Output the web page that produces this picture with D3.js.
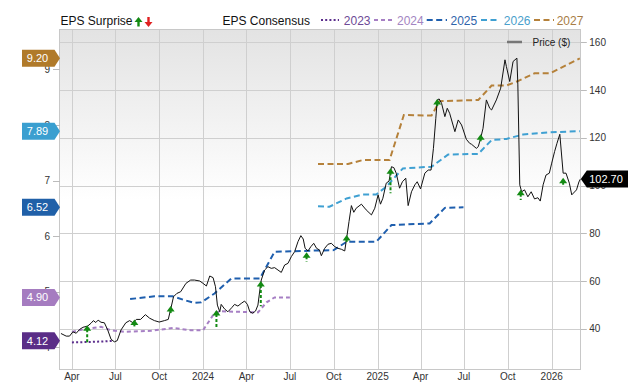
<!DOCTYPE html>
<html><head><meta charset="utf-8">
<script src="https://cdn.jsdelivr.net/npm/d3@7"></script>
<style>
html,body{margin:0;padding:0;background:#fff;}
svg{display:block;font-family:"Liberation Sans",Arial,Helvetica,sans-serif;}
</style></head><body>
<svg id="chart" width="640" height="382"></svg>
<script>
// ---------------- DATA ----------------
const seriesYears = ["2023", "2024", "2025", "2026", "2027"];
const epsLatest = [4.12, 4.90, 6.52, 7.89, 9.20];
const priceLatest = 102.70;

const eps2023 = [["2023-04-01",4.09],["2023-05-15",4.10],["2023-06-10",4.11],["2023-06-28",4.12]];
const eps2024 = [["2023-04-01",4.28],["2023-04-27",4.33],["2023-06-01",4.37],["2023-06-22",4.31],["2023-07-20",4.28],
  ["2023-09-14",4.30],["2023-10-30",4.35],["2023-12-06",4.31],["2024-01-01",4.31],["2024-01-25",4.62],["2024-02-08",4.65],
  ["2024-04-25",4.63],["2024-05-13",4.81],["2024-05-30",4.90],["2024-07-01",4.90]];
const eps2025 = [["2023-08-01",4.87],["2023-09-21",4.92],["2023-10-29",4.92],["2023-11-23",4.85],["2023-12-14",4.80],
  ["2023-12-28",4.81],["2024-01-25",4.97],["2024-02-29",5.24],["2024-04-29",5.24],["2024-05-30",5.72],["2024-08-15",5.74],
  ["2024-10-01",5.75],["2024-10-28",5.90],["2024-12-29",5.90],["2025-01-30",6.20],["2025-04-20",6.23],["2025-05-22",6.51],
  ["2025-06-30",6.52]];
const eps2026 = [["2024-08-29",6.54],["2024-09-22",6.53],["2024-10-28",6.68],["2024-12-01",6.75],["2024-12-29",6.75],
  ["2025-01-19",6.89],["2025-02-23",7.22],["2025-04-24",7.25],["2025-05-29",7.47],["2025-07-31",7.48],["2025-08-28",7.73],
  ["2025-09-28",7.75],["2025-11-02",7.83],["2025-12-29",7.87],["2026-03-01",7.89]];
const eps2027 = [["2024-08-29",7.30],["2024-10-31",7.30],["2024-12-01",7.37],["2025-01-26",7.37],["2025-02-25",8.18],
  ["2025-04-24",8.17],["2025-05-11",8.43],["2025-07-31",8.45],["2025-08-28",8.71],["2025-09-28",8.71],["2025-10-22",8.79],
  ["2025-11-26",8.93],["2025-12-29",8.93],["2026-03-01",9.20]];

const priceData = [
["2023-03-09",38.0],["2023-03-20",36.9],["2023-03-27",36.9],["2023-04-03",38.7],["2023-04-10",38.1],["2023-04-17",39.7],
["2023-04-24",40.6],["2023-05-04",41.1],["2023-05-11",42.3],["2023-05-16",43.4],["2023-05-21",42.6],["2023-05-26",43.6],
["2023-06-01",42.7],["2023-06-08",42.5],["2023-06-15",39.5],["2023-06-22",35.6],["2023-06-29",34.5],["2023-07-05",35.0],
["2023-07-13",39.5],["2023-07-23",42.5],["2023-07-31",43.4],["2023-08-07",42.5],["2023-08-14",43.9],["2023-08-23",43.9],
["2023-09-02",45.9],["2023-09-11",44.4],["2023-09-21",43.4],["2023-10-01",42.8],["2023-10-12",43.4],["2023-10-20",43.9],
["2023-10-25",48.1],["2023-10-31",53.4],["2023-11-07",54.8],["2023-11-15",55.5],["2023-11-26",59.0],["2023-12-06",60.4],
["2023-12-14",60.4],["2023-12-25",60.0],["2024-01-01",59.0],["2024-01-08",57.9],["2024-01-15",62.1],["2024-01-22",61.4],
["2024-01-27",57.6],["2024-01-31",49.9],["2024-02-05",47.1],["2024-02-08",50.2],["2024-02-15",48.3],["2024-02-22",47.1],
["2024-03-01",48.8],["2024-03-07",50.2],["2024-03-14",49.5],["2024-03-21",50.6],["2024-03-28",51.6],["2024-04-03",50.2],
["2024-04-08",47.1],["2024-04-14",46.5],["2024-04-20",47.4],["2024-04-25",49.9],["2024-04-29",56.2],["2024-05-02",60.4],
["2024-05-09",64.6],["2024-05-16",66.0],["2024-05-23",65.3],["2024-05-30",65.6],["2024-06-06",64.6],["2024-06-13",63.6],
["2024-06-20",66.7],["2024-06-27",67.4],["2024-07-04",70.2],["2024-07-11",72.3],["2024-07-18",76.5],["2024-07-24",79.0],
["2024-07-29",77.6],["2024-08-02",73.7],["2024-08-08",72.6],["2024-08-14",74.4],["2024-08-20",75.8],["2024-08-26",73.7],
["2024-09-01",73.0],["2024-09-05",70.6],["2024-09-12",73.7],["2024-09-19",75.4],["2024-09-26",75.8],["2024-10-03",74.4],
["2024-10-10",73.7],["2024-10-17",73.3],["2024-10-24",72.6],["2024-10-28",77.9],["2024-11-02",84.9],["2024-11-07",91.6],
["2024-11-12",88.8],["2024-11-17",90.5],["2024-11-28",92.2],["2024-12-08",89.8],["2024-12-19",87.7],["2024-12-26",90.5],
["2025-01-02",96.1],["2025-01-07",92.2],["2025-01-12",94.7],["2025-01-19",101.0],["2025-01-25",101.9],["2025-01-30",107.9],
["2025-02-04",107.5],["2025-02-09",105.2],["2025-02-16",98.9],["2025-02-22",101.6],["2025-03-01",103.1],["2025-03-06",91.6],
["2025-03-13",97.4],["2025-03-20",100.3],["2025-03-25",101.6],["2025-04-01",98.6],["2025-04-10",105.2],["2025-04-17",106.5],
["2025-04-23",106.5],["2025-04-28",115.6],["2025-05-03",128.2],["2025-05-06",135.9],["2025-05-10",136.3],["2025-05-15",134.5],
["2025-05-22",128.9],["2025-05-27",132.4],["2025-06-01",130.3],["2025-06-12",122.6],["2025-06-19",127.5],["2025-06-26",125.4],
["2025-07-06",119.4],["2025-07-13",117.7],["2025-07-17",117.3],["2025-07-27",115.6],["2025-07-31",116.3],["2025-08-05",119.8],
["2025-08-10",124.0],["2025-08-17",135.9],["2025-08-24",132.4],["2025-08-28",131.7],["2025-09-07",135.9],["2025-09-16",140.8],
["2025-09-25",152.7],["2025-09-28",149.9],["2025-10-05",143.6],["2025-10-12",152.0],["2025-10-20",153.4],["2025-10-22",142.2],
["2025-10-26",100.3],["2025-10-30",97.4],["2025-11-05",98.2],["2025-11-12",95.3],["2025-11-19",97.4],["2025-11-26",94.4],
["2025-12-03",94.9],["2025-12-08",93.5],["2025-12-14",100.3],["2025-12-20",104.4],["2025-12-27",105.2],["2026-01-01",109.4],
["2026-01-07",114.2],["2026-01-12",117.7],["2026-01-18",121.5],["2026-01-25",105.2],["2026-01-31",105.2],["2026-02-07",101.0],
["2026-02-12",96.1],["2026-02-22",98.2],["2026-02-27",101.5],["2026-03-02",102.7]
];

// EPS surprise arrows: [report date, price at arrow tip, price at stem base]
const surprises = [
["2023-05-03",41.5,33.6],["2023-08-10",43.9,40.8],["2023-10-25",49.5,46.5],["2024-01-29",47.8,40.4],
["2024-05-01",60.0,49.4],["2024-08-05",72.0,68.1],["2024-10-28",79.3,76.1],["2025-01-28",107.3,96.8],
["2025-05-06",136.3,132.5],["2025-08-05",121.5,117.7],["2025-10-28",98.2,94.0],["2026-01-25",103.3,99.5]
];

const epsTicks = [4, 5, 6, 7, 8, 9];
const priceTicks = [40, 60, 80, 100, 120, 140, 160];
const dateTicks = ["2023-04-01","2023-07-01","2023-10-01","2024-01-01","2024-04-01","2024-07-01","2024-10-01",
  "2025-01-01","2025-04-01","2025-07-01","2025-10-01","2026-01-01"];
const xDomain = ["2023-03-07", "2026-03-03"];
const epsDomain = [3.594, 9.709];
const priceDomain = [22.7, 165.2];

// ---------------- STYLE ----------------
const lineColors = ["#5b2d8c", "#a67fc4", "#1f5fae", "#3fa0d2", "#b5813a"];
const textColors = ["#6d4a96", "#a385c2", "#2f64aa", "#4aa0cc", "#a87d45"];
const badgeColors = ["#5a2d87", "#a57cc0", "#2060a8", "#3a9fd0", "#b07a2a"];
const dashes = ["2,2.2", "4,3", "6,3.5", "6,3.5", "6,3.5"];

// ---------------- CHART ----------------
const parse = d3.timeParse("%Y-%m-%d");
const svg = d3.select("#chart");
const L = 60, R = 580.8, T = 30, B = 370;

const x = d3.scaleTime().domain(xDomain.map(parse)).range([L, R]);
const yE = d3.scaleLinear().domain(epsDomain).range([B, T]);
const yP = d3.scaleLinear().domain(priceDomain).range([B, T]);

const defs = svg.append("defs");
const grad = defs.append("linearGradient").attr("id","bg").attr("x1",0).attr("y1",0).attr("x2",0).attr("y2",1);
grad.append("stop").attr("offset","0%").attr("stop-color","#e3e3e3");
grad.append("stop").attr("offset","50%").attr("stop-color","#ffffff");
grad.append("stop").attr("offset","100%").attr("stop-color","#ffffff");
defs.append("clipPath").attr("id","clip").append("rect").attr("x",L).attr("y",T).attr("width",R-L).attr("height",B-T);

svg.append("rect").attr("x",L).attr("y",T).attr("width",R-L).attr("height",B-T).attr("fill","url(#bg)");

// grid
const crisp = v => Math.round(v) + 0.5;
svg.append("g").selectAll("line").data(priceTicks).join("line")
  .attr("x1",L).attr("x2",R).attr("y1",d=>crisp(yP(d))).attr("y2",d=>crisp(yP(d)))
  .attr("stroke","#cfcfcf").attr("stroke-width",1);
svg.append("g").selectAll("line").data(dateTicks.map(parse)).join("line")
  .attr("x1",d=>crisp(x(d))).attr("x2",d=>crisp(x(d))).attr("y1",T).attr("y2",B)
  .attr("stroke","#cfcfcf").attr("stroke-width",1);
// border
svg.append("rect").attr("x",crisp(L)-1).attr("y",crisp(T)-1).attr("width",Math.round(R-L)).attr("height",B-T)
  .attr("fill","none").attr("stroke","#c8c8c8");

// x axis labels
const fmt = d => d.getMonth() === 0 ? d3.timeFormat("%Y")(d) : d3.timeFormat("%b")(d);
svg.append("g").selectAll("text").data(dateTicks.map(parse)).join("text")
  .attr("x",d=>x(d)).attr("y",380).attr("text-anchor","middle")
  .attr("font-size",10).attr("fill","#333").text(fmt);

// right price axis
const ra = svg.append("g");
ra.selectAll("line").data(priceTicks).join("line")
  .attr("x1",R).attr("x2",R+6).attr("y1",d=>crisp(yP(d))).attr("y2",d=>crisp(yP(d))).attr("stroke","#bbb");
ra.selectAll("text").data(priceTicks).join("text")
  .attr("x",R+8.5).attr("y",d=>yP(d)+3.6).attr("font-size",10).attr("fill","#333").text(d=>d);

// left eps axis
const la = svg.append("g");
la.selectAll("line").data(epsTicks).join("line")
  .attr("x1",L-7).attr("x2",L).attr("y1",d=>crisp(yE(d))).attr("y2",d=>crisp(yE(d))).attr("stroke","#bbb");
la.selectAll("text").data(epsTicks).join("text")
  .attr("x",L-10).attr("y",d=>yE(d)+3.6).attr("text-anchor","end").attr("font-size",10).attr("fill","#333").text(d=>d);

// EPS consensus lines
const plot = svg.append("g").attr("clip-path","url(#clip)");
const epsSeries = [eps2023, eps2024, eps2025, eps2026, eps2027];
const lineE = d3.line().x(d=>x(parse(d[0]))).y(d=>yE(d[1]));
epsSeries.forEach((s,i) => {
  plot.append("path").datum(s).attr("d",lineE).attr("fill","none")
    .attr("stroke",lineColors[i]).attr("stroke-width",2).attr("stroke-dasharray",dashes[i]);
});

// price line
const lineP = d3.line().x(d=>x(parse(d[0]))).y(d=>yP(d[1]));
plot.append("path").datum(priceData).attr("d",lineP).attr("fill","none")
  .attr("stroke","#111").attr("stroke-width",1).attr("stroke-linejoin","round");

// surprise arrows
const sg = plot.append("g");
surprises.forEach(s => {
  const ax = x(parse(s[0])), yt = yP(s[1]), yb = yP(s[2]);
  sg.append("line").attr("x1",ax).attr("x2",ax).attr("y1",yt+4).attr("y2",yb)
    .attr("stroke","#138a13").attr("stroke-width",2).attr("stroke-dasharray","3,2");
  sg.append("path").attr("d",`M${ax},${yt} L${ax+4},${yt+5.5} L${ax-4},${yt+5.5} Z`).attr("fill","#138a13");
});

// price legend inside plot
svg.append("line").attr("x1",507).attr("x2",522).attr("y1",42).attr("y2",42).attr("stroke","#777").attr("stroke-width",2.5);
svg.append("text").attr("x",532.5).attr("y",45.6).attr("font-size",10).attr("fill","#222").text("Price ($)");

// EPS badges on left
const bg = svg.append("g");
epsLatest.forEach((v,i) => {
  const cy = yE(v);
  bg.append("path").attr("d",`M22,${cy-8.5} L54.5,${cy-8.5} L60,${cy} L54.5,${cy+8.5} L22,${cy+8.5} Z`).attr("fill",badgeColors[i]);
  bg.append("text").attr("x",37.5).attr("y",cy+4).attr("text-anchor","middle").attr("font-size",11)
    .attr("fill","#fff").text(d3.format(".2f")(v));
});

// price badge on right
{
  const cy = yP(priceLatest);
  svg.append("path").attr("d",`M${R},${cy} L${R+6},${cy-8.5} L628,${cy-8.5} L628,${cy+8.5} L${R+6},${cy+8.5} Z`).attr("fill","#000");
  svg.append("text").attr("x",606).attr("y",cy+4).attr("text-anchor","middle").attr("font-size",11)
    .attr("fill","#fff").text(d3.format(".2f")(priceLatest));
}

// top legend
const lg = svg.append("g");
lg.append("text").attr("x",60.5).attr("y",24.5).attr("font-size",12).attr("fill","#111").text("EPS Surprise");
lg.append("path").attr("d","M138.5,17 L142.5,22 L134.5,22 Z").attr("fill","#138a13");
lg.append("rect").attr("x",137.3).attr("y",21.5).attr("width",2.4).attr("height",5).attr("fill","#138a13");
lg.append("path").attr("d","M148.5,27 L152.5,22 L144.5,22 Z").attr("fill","#e02020");
lg.append("rect").attr("x",147.3).attr("y",17).attr("width",2.4).attr("height",5.5).attr("fill","#e02020");
lg.append("text").attr("x",222.5).attr("y",24.5).attr("font-size",12).attr("fill","#111").text("EPS Consensus");
const legX = [[321,339,343.8],[374,394,397],[426.7,447,450.5],[481,498.5,503.8],[534,554,556.7]];
seriesYears.forEach((yr,i) => {
  lg.append("line").attr("x1",legX[i][0]).attr("x2",legX[i][1]).attr("y1",20).attr("y2",20)
    .attr("stroke",lineColors[i]).attr("stroke-width",2).attr("stroke-dasharray",dashes[i]);
  lg.append("text").attr("x",legX[i][2]).attr("y",24.5).attr("font-size",12).attr("fill",textColors[i]).text(yr);
});
</script>
</body></html>
